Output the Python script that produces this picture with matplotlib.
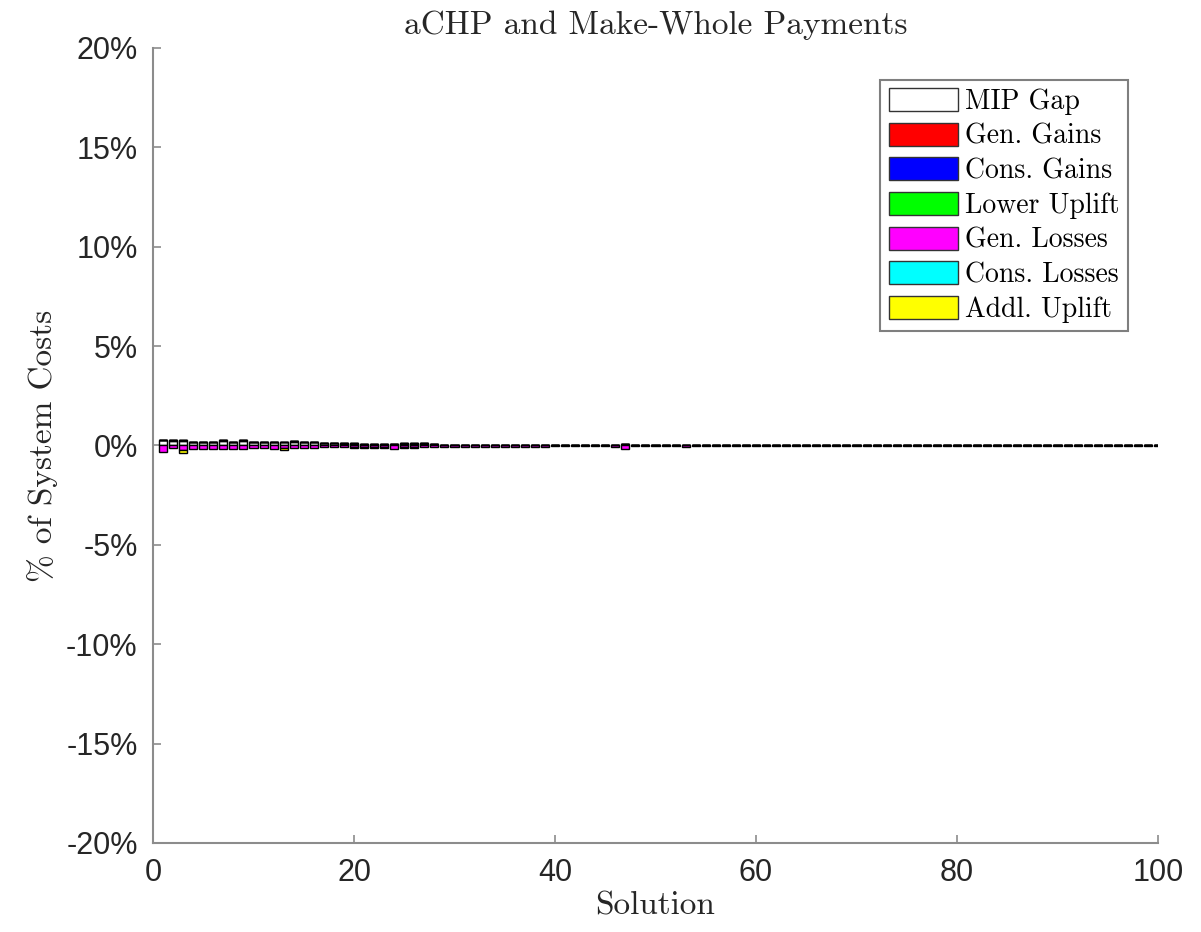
import numpy as np
import matplotlib
matplotlib.use("Agg")
import matplotlib.pyplot as plt
from matplotlib.ticker import PercentFormatter

plt.rcParams['axes.unicode_minus'] = False

# values in % of system costs, solutions 1..100
solution = list(range(1, 101))
mip_gap = [0.26, 0.24, 0.22, 0.20, 0.20, 0.20, 0.21, 0.20, 0.22, 0.18,
           0.18, 0.17, 0.16, 0.18, 0.16, 0.16, 0.13, 0.13, 0.10, 0.10,
           0.09, 0.09, 0.08, 0.08, 0.09, 0.08, 0.08, 0.06, 0.05, 0.05,
           0.05, 0.04, 0.04, 0.04, 0.05, 0.04, 0.04, 0.04, 0.03, 0.04,
           0.03, 0.03, 0.04, 0.04, 0.03, 0.03, 0.06, 0.03, 0.03, 0.03,
           0.03, 0.03, 0.03, 0.01, 0.01, 0.01, 0.02, 0.01, 0.01, 0.01,
           0.01, 0.01, 0.01, 0.01, 0.01, 0.01, 0.01, 0.01, 0.01, 0.01,
           0.01, 0.01, 0.00, 0.00, 0.00, 0.00, 0.00, 0.00, 0.01, 0.01,
           0.00, 0.00, 0.01, 0.01, 0.01, 0.01, 0.01, 0.00, 0.00, 0.00,
           0.01, 0.01, 0.01, 0.01, 0.01, 0.01, 0.01, 0.01, 0.01, 0.00]
gen_gains = [0.00, 0.06, 0.05, 0.00, 0.00, 0.00, 0.05, 0.00, 0.06, 0.00,
             0.00, 0.00, 0.00, 0.04, 0.04, 0.00, 0.00, 0.00, 0.04, 0.04,
             0.00, 0.00, 0.00, 0.00, 0.04, 0.04, 0.04, 0.00, 0.00, 0.00,
             0.00, 0.00, 0.00, 0.00, 0.00, 0.00, 0.00, 0.00, 0.00, 0.00,
             0.00, 0.00, 0.00, 0.00, 0.00, 0.00, 0.03, 0.00, 0.00, 0.00,
             0.00, 0.00, 0.00, 0.00, 0.00, 0.00, 0.00, 0.00, 0.00, 0.00] + [0.0] * 40
cons_gains = [0.0] * 100
lower_uplift = [0.0] * 100
gen_losses = [-0.32, -0.13, -0.24, -0.16, -0.16, -0.16, -0.16, -0.16, -0.16, -0.13,
              -0.13, -0.16, -0.13, -0.13, -0.11, -0.11, -0.10, -0.10, -0.08, -0.08,
              -0.08, -0.07, -0.07, -0.20, -0.08, -0.08, -0.08, -0.07, -0.07, -0.07,
              -0.07, -0.07, -0.07, -0.08, -0.08, -0.07, -0.07, -0.07, -0.07, -0.05,
              -0.05, -0.05, -0.05, -0.05, -0.04, -0.06, -0.16, -0.05, -0.04, -0.05,
              -0.04, -0.04, -0.06, -0.01, -0.01, -0.01, -0.03, -0.01, -0.01, -0.02,
              -0.01, -0.01, -0.01, -0.01, -0.01, -0.01, -0.01, -0.02, -0.01, -0.01,
              -0.01, -0.02, -0.01, -0.01, -0.01, -0.01, -0.01, -0.01, -0.01, -0.01,
              -0.01, -0.01, -0.01, -0.01, -0.01, -0.02, -0.01, -0.01, -0.01, -0.01,
              -0.01, -0.01, -0.01, -0.02, -0.01, -0.01, -0.01, -0.02, -0.01, -0.01]
cons_losses = [0.0] * 100
addl_uplift = [0.00, 0.00, -0.12, 0.00, 0.00, 0.00, 0.00, 0.00, 0.00, 0.00,
               0.00, 0.00, -0.08, 0.00, 0.00, 0.00, 0.00, 0.00, 0.00, -0.04,
               -0.04, -0.04, -0.04, 0.00, -0.04, -0.04, 0.00, 0.00, 0.00, 0.00] + [0.0] * 70

names = ["MIP Gap", "Gen. Gains", "Cons. Gains", "Lower Uplift",
         "Gen. Losses", "Cons. Losses", "Addl. Uplift"]
series = [mip_gap, gen_gains, cons_gains, lower_uplift,
          gen_losses, cons_losses, addl_uplift]
colors = ["white", "#ff0000", "#0000ff", "#00ff00", "#ff00ff", "#00ffff", "#ffff00"]

serif = ['cmr10', 'DejaVu Serif']
sans = ['Liberation Sans', 'DejaVu Sans']

fig = plt.figure(figsize=(12.01, 9.32), dpi=100)
ax = fig.add_axes([0.1274, 0.0955, 0.8368, 0.853])

x = np.array(solution)
pos_base = np.zeros(100)
neg_base = np.zeros(100)
for name, vals, c in zip(names, series, colors):
    v = np.array(vals)
    base = np.where(v >= 0, pos_base, neg_base)
    ax.bar(x, v, width=0.8, bottom=base, color=c, edgecolor='black',
           linewidth=1.0, label=name, zorder=2)
    pos_base = pos_base + np.where(v > 0, v, 0)
    neg_base = neg_base + np.where(v < 0, v, 0)

ax.set_xlim(0, 100)
ax.set_ylim(-20, 20)
ax.set_xticks([0, 20, 40, 60, 80, 100])
ax.set_yticks(np.arange(-20, 21, 5))
ax.yaxis.set_major_formatter(PercentFormatter(decimals=0))

for s in ['top', 'right']:
    ax.spines[s].set_visible(False)
for s in ['left', 'bottom']:
    ax.spines[s].set_color('#8c8c8c')
    ax.spines[s].set_linewidth(1.5)
ax.tick_params(direction='in', length=6, width=1.2, color='#8c8c8c',
               labelcolor='#262626', labelsize=22, pad=11)
for lab in ax.get_xticklabels() + ax.get_yticklabels():
    lab.set_family(sans)

ax.set_title("aCHP and Make-Whole Payments", family=serif, fontsize=24,
             color='#262626', pad=10)
ax.set_xlabel("Solution", family=serif, fontsize=24, color='#262626', labelpad=2)
ax.set_ylabel("% of System Costs", family=serif, fontsize=24, color='#262626', labelpad=6)

leg = ax.legend(loc='upper right', bbox_to_anchor=(0.970, 0.960),
                prop={'family': serif, 'size': 20}, handlelength=2.5,
                handleheight=0.9, handletextpad=0.25, labelspacing=0.27,
                borderpad=0.3, borderaxespad=0, fancybox=False, framealpha=1)
leg.get_frame().set_edgecolor('#7f7f7f')
leg.get_frame().set_linewidth(1.5)
for p in leg.get_patches():
    p.set_edgecolor('#333333')

fig.savefig("out.png", dpi=100)
